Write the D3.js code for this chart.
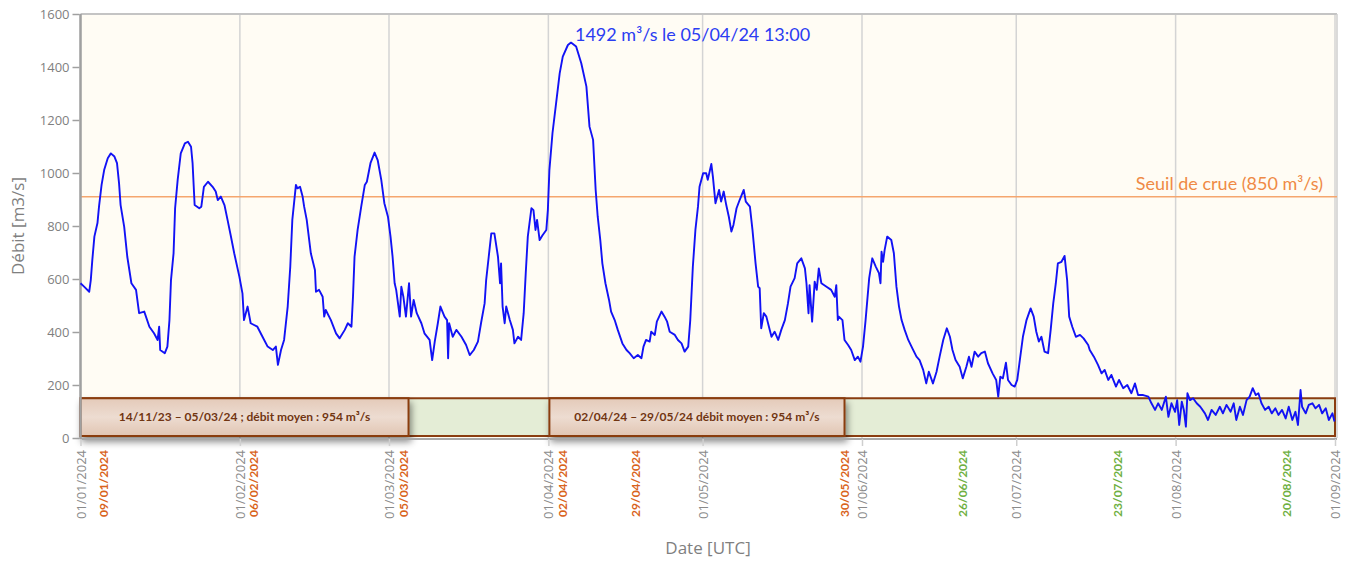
<!DOCTYPE html>
<html>
<head>
<meta charset="utf-8">
<script src="https://cdn.jsdelivr.net/npm/d3@7"></script>
<style>
  body { margin: 0; background: #fff; }
  text { font-family: 'Open Sans', sans-serif; }
</style>
</head>
<body>
<svg id="svg" width="1347" height="563"></svg>
<script>
const WIDTH = 1347
const HEIGHT = 563
const LEFT = 80.5
const RIGHT = 1335
const TOP = 14
const BOTTOM = 438

// jours depuis le 01/01/2024 (UTC) et debit en m3/s
const jours = [
  0, 0.7, 1.7, 2.0, 2.3, 2.7, 3.3, 3.6, 4.1, 4.6, 5.3, 5.9, 6.6, 7.1, 7.5, 7.8, 8.5, 9.1, 9.9, 10.8,
  11.4, 12.4, 13.4, 14.3, 15.0, 15.3, 15.5, 16.4, 16.9, 17.3, 17.6, 18.1, 18.4, 18.9, 19.5, 20.3, 20.9, 21.5, 21.8, 22.2,
  23.1, 23.5, 24.0, 24.8, 25.7, 26.3, 26.7, 27.3, 28.0, 28.6, 29.2, 29.9, 30.9, 31.5, 31.8, 32.5, 33.1, 34.4, 35.4, 36.4,
  37.4, 38.0, 38.4, 39.0, 39.6, 40.3, 40.8, 41.2, 41.9, 42.2, 42.7, 43.2, 43.5, 44.0, 44.8, 45.6, 45.8, 46.4, 47.1, 47.4,
  47.7, 48.7, 49.7, 50.4, 51.4, 52.0, 52.7, 53.0, 53.3, 53.9, 54.6, 55.3, 55.7, 56.4, 57.2, 57.8, 58.5, 59.1, 59.8, 60.3,
  60.7, 61.1, 61.4, 62.1, 62.4, 62.8, 63.3, 63.9, 64.3, 64.8, 65.4, 66.3, 66.9, 67.9, 68.4, 68.9, 69.5, 70.0, 70.8, 71.3,
  71.5, 71.7, 72.4, 73.1, 74.1, 75.0, 75.7, 76.5, 77.3, 77.9, 78.6, 78.9, 79.4, 79.9, 80.5, 81.2, 81.6, 81.8, 82.1, 82.5,
  82.8, 83.5, 84.1, 84.4, 85.1, 85.7, 86.2, 86.6, 87.0, 87.7, 88.1, 88.5, 88.8, 89.3, 89.9, 90.6, 90.9, 91.2, 91.8, 92.5,
  93.2, 93.8, 94.8, 95.4, 96.4, 97.4, 98.4, 99.0, 99.7, 100.2, 100.6, 101.1, 101.5, 102.1, 102.8, 103.2, 103.9, 104.5, 105.4, 106.2,
  106.8, 107.6, 108.4, 109.1, 109.5, 110.0, 110.7, 111.0, 111.7, 112.1, 113.0, 113.6, 114.1, 114.6, 115.6, 116.2, 116.9, 117.5, 118.2, 118.6,
  119.1, 119.6, 120.1, 120.4, 121.1, 121.7, 122.0, 122.7, 123.0, 123.5, 124.2, 124.6, 125.1, 125.6, 126.1, 126.6, 127.0, 127.6, 128.2, 129.0,
  129.4, 130.2, 130.7, 131.3, 131.8, 132.1, 132.4, 132.9, 133.4, 133.9, 134.4, 135.0, 135.7, 136.3, 137.0, 137.6, 138.1, 138.9, 139.4, 140.2,
  140.9, 141.2, 141.6, 141.8, 142.3, 142.8, 143.2, 143.6, 144.1, 145.1, 146.0, 146.7, 147.0, 147.3, 147.5, 148.2, 148.6, 149.3, 149.9, 150.6,
  151.2, 151.7, 152.2, 152.7, 153.4, 154.0, 154.7, 155.3, 155.6, 155.8, 156.1, 156.4, 156.9, 157.7, 158.2, 158.7, 159.2, 159.7, 160.3, 161.0,
  161.8, 162.6, 163.2, 163.9, 164.5, 165.0, 165.8, 166.5, 167.1, 167.8, 168.5, 169.1, 169.6, 170.2, 171.0, 171.6, 172.3, 172.8, 173.3, 173.9,
  174.6, 175.2, 175.9, 176.5, 177.4, 178.1, 178.5, 178.9, 179.4, 180.0, 180.4, 181.1, 181.7, 182.2, 182.7, 183.3, 184.0, 184.8, 185.4, 185.9,
  186.4, 186.9, 187.5, 188.2, 188.7, 189.2, 189.7, 190.1, 190.8, 191.4, 191.9, 192.3, 192.9, 193.6, 194.4, 195.1, 196.0, 196.3, 197.1, 197.9,
  198.6, 199.2, 199.9, 200.5, 201.4, 202.0, 202.8, 203.6, 204.4, 205.1, 205.7, 206.7, 207.7, 208.3, 209.0, 209.6, 210.3, 211.1, 211.6, 212.2,
  212.9, 213.3, 213.7, 214.2, 214.6, 215.0, 215.3, 215.8, 216.4, 217.1, 217.8, 218.7, 219.3, 220.0, 220.8, 221.6, 222.2, 222.9, 223.7, 224.3,
  224.8, 225.5, 226.1, 226.8, 227.4, 228.0, 228.6, 229.1, 229.7, 230.4, 231.1, 231.7, 232.4, 233.0, 233.7, 234.4, 235.0, 235.7, 236.3, 236.8,
  237.3, 237.6, 238.3, 238.9, 239.6, 240.2, 240.9, 241.5, 242.2, 242.8, 243.5, 243.9
]
const debits = [
  584, 571, 552, 596, 672, 760, 811, 873, 955, 1011, 1056, 1074, 1062, 1037, 961, 879, 797, 684, 584, 559,
  471, 477, 420, 395, 370, 420, 332, 320, 345, 445, 596, 697, 867, 974, 1074, 1112, 1118, 1099, 1037, 879,
  867, 873, 948, 967, 948, 930, 898, 911, 879, 823, 766, 697, 609, 546, 445, 496, 433, 420, 382, 345,
  332, 345, 276, 332, 370, 496, 646, 823, 955, 942, 948, 911, 873, 823, 697, 634, 552, 559, 533, 458,
  483, 445, 395, 376, 408, 433, 420, 533, 684, 785, 873, 955, 967, 1037, 1077, 1049, 974, 886, 835, 760,
  684, 584, 559, 458, 571, 533, 458, 584, 458, 521, 471, 433, 395, 370, 294, 364, 433, 496, 458, 445,
  301, 433, 382, 408, 382, 351, 313, 332, 364, 433, 508, 596, 684, 772, 772, 684, 584, 659, 496, 433,
  496, 445, 408, 357, 382, 370, 471, 622, 760, 867, 860, 785, 823, 747, 766, 785, 860, 1011, 1150, 1263,
  1376, 1439, 1483, 1492, 1477, 1414, 1326, 1175, 1125, 936, 835, 747, 659, 584, 521, 477, 445, 408, 357, 332,
  320, 301, 313, 301, 345, 370, 364, 401, 389, 439, 477, 458, 439, 401, 389, 370, 357, 326, 345, 445,
  646, 785, 873, 948, 999, 999, 974, 1034, 986, 886, 936, 892, 930, 879, 835, 779, 804, 867, 898, 936,
  892, 873, 785, 659, 571, 565, 414, 471, 458, 420, 382, 401, 370, 408, 445, 508, 571, 603, 659, 678,
  640, 584, 471, 577, 439, 590, 559, 640, 584, 571, 559, 533, 577, 445, 458, 445, 370, 351, 332, 294,
  307, 288, 345, 445, 603, 678, 646, 622, 584, 703, 665, 709, 760, 747, 697, 571, 496, 445, 408, 370,
  338, 307, 294, 257, 206, 250, 206, 250, 307, 370, 414, 382, 332, 294, 269, 225, 269, 307, 269, 326,
  307, 320, 326, 282, 244, 219, 156, 231, 225, 284, 219, 200, 194, 219, 294, 382, 445, 489, 458, 401,
  364, 382, 326, 320, 408, 508, 584, 659, 665, 687, 596, 458, 420, 382, 389, 376, 351, 332, 307, 276,
  244, 257, 219, 238, 194, 219, 188, 200, 169, 206, 162, 162, 156, 131, 106, 131, 106, 156, 80, 131,
  99, 143, 49, 137, 106, 43, 169, 143, 150, 131, 118, 93, 68, 106, 87, 118, 93, 125, 99, 131,
  68, 118, 87, 143, 156, 188, 162, 169, 131, 106, 118, 93, 112, 87, 106, 74, 118, 68, 99, 49,
  181, 118, 93, 125, 131, 112, 125, 93, 112, 68, 93, 62
]

const yTicks = [0, 200, 400, 600, 800, 1000, 1200, 1400, 1600]

// reperes de dates sous l'axe (position, en jours)
const reperes = ['09/01/2024', '06/02/2024', '05/03/2024', '02/04/2024', '29/04/2024', '30/05/2024', '26/06/2024', '23/07/2024', '20/08/2024']
const reperesJours = [4.5, 33.7, 62.8, 93.8, 108, 148.6, 171.6, 201.8, 234.6]
const reperesType = ['crue', 'crue', 'crue', 'crue', 'crue', 'crue', 'etiage', 'etiage', 'etiage']

// periodes de crue (encadres) et bande verte
const periodes = ['14/11/23 – 05/03/24 ; débit moyen : 954 m³/s', '02/04/24 – 29/05/24 débit moyen : 954 m³/s']
const periodesDebut = [0, 91.2]
const periodesFin = [63.8, 148.6]
const bandeMax = 150

const seuil = 910
const seuilLabel = 'Seuil de crue (850 m³/s)'
const picJour = 95.4
const picDebit = 1492
const picLabel = '1492 m³/s le 05/04/24 13:00'

const T0 = Date.UTC(2024, 0, 1)
const toDate = d => new Date(T0 + d * 864e5)

const x = d3.scaleUtc()
  .domain([new Date(T0), new Date(Date.UTC(2024, 8, 1))])
  .range([LEFT, RIGHT])
const y = d3.scaleLinear()
  .domain([0, 1600])
  .range([BOTTOM, TOP])

const couleurRepere = d3.scaleOrdinal()
  .domain(['crue', 'etiage'])
  .range(['#d9641c', '#6fb043'])

const SVG = d3.select('#svg')
const defs = SVG.append('defs')
const shadow = defs.append('filter').attr('id', 'ombre')
  .attr('x', '-5%').attr('y', '-30%').attr('width', '115%').attr('height', '200%')
shadow.append('feDropShadow')
  .attr('dx', 2).attr('dy', 5).attr('stdDeviation', 3.5)
  .attr('flood-color', '#000').attr('flood-opacity', 0.45)
const grad = defs.append('linearGradient').attr('id', 'boite')
  .attr('x1', 0).attr('y1', 0).attr('x2', 0).attr('y2', 1)
grad.append('stop').attr('offset', '0%').attr('stop-color', '#e4cab9')
grad.append('stop').attr('offset', '50%').attr('stop-color', '#eddcd1')
grad.append('stop').attr('offset', '100%').attr('stop-color', '#e1c5b2')

// fond
SVG.append('rect')
  .attr('x', LEFT).attr('y', TOP)
  .attr('width', RIGHT - LEFT + 2).attr('height', BOTTOM - TOP)
  .attr('fill', '#fffcf4')

const mois = d3.utcMonth.range(new Date(T0), new Date(Date.UTC(2024, 8, 2)))

// grille verticale
SVG.append('g')
  .selectAll('line')
  .data(mois)
  .enter()
  .append('line')
  .attr('x1', d => x(d)).attr('x2', d => x(d))
  .attr('y1', TOP).attr('y2', BOTTOM)
  .attr('stroke', '#d4d4d4')
  .attr('stroke-width', 1.5)

// cadre haut et droit
SVG.append('line')
  .attr('x1', LEFT).attr('x2', RIGHT + 2).attr('y1', TOP).attr('y2', TOP)
  .attr('stroke', '#c4c4c4').attr('stroke-width', 2)
SVG.append('line')
  .attr('x1', RIGHT + 2).attr('x2', RIGHT + 2).attr('y1', TOP).attr('y2', BOTTOM)
  .attr('stroke', '#cfcfcf').attr('stroke-width', 1.5)

// seuil de crue
SVG.append('line')
  .attr('x1', LEFT).attr('x2', RIGHT + 2)
  .attr('y1', y(seuil)).attr('y2', y(seuil))
  .attr('stroke', '#f5a66e').attr('stroke-width', 1.5)
SVG.append('text')
  .text(seuilLabel)
  .attr('x', RIGHT - 12)
  .attr('y', y(seuil) - 7)
  .attr('text-anchor', 'end')
  .style('font-family', 'Lato, sans-serif')
  .style('font-size', '18px')
  .attr('fill', '#ef8a45')

// bande verte
SVG.append('rect')
  .attr('x', x(toDate(0))).attr('y', y(bandeMax))
  .attr('width', x(toDate(244)) - x(toDate(0)))
  .attr('height', y(0) - y(bandeMax) - 2)
  .attr('fill', '#e4edd6')
  .attr('stroke', '#8a3d10')
  .attr('stroke-width', 2)

// encadres des periodes
const boites = SVG.append('g')
  .selectAll('g')
  .data(periodes)
  .enter()
  .append('g')
boites.append('rect')
  .attr('x', (d, i) => x(toDate(periodesDebut[i])))
  .attr('y', y(bandeMax))
  .attr('width', (d, i) => x(toDate(periodesFin[i])) - x(toDate(periodesDebut[i])))
  .attr('height', y(0) - y(bandeMax) - 2)
  .attr('fill', 'url(#boite)')
  .attr('stroke', '#8a3d10')
  .attr('stroke-width', 2)
  .attr('filter', 'url(#ombre)')

// axe gauche et bas
SVG.append('line')
  .attr('x1', LEFT).attr('x2', RIGHT + 2).attr('y1', BOTTOM + 1).attr('y2', BOTTOM + 1)
  .attr('stroke', '#a8a8a8').attr('stroke-width', 2)
SVG.append('line')
  .attr('x1', LEFT).attr('x2', LEFT).attr('y1', TOP).attr('y2', BOTTOM + 1)
  .attr('stroke', '#a0a0a0').attr('stroke-width', 2.5)

// courbe du debit
const serie = jours.map((j, i) => ({ date: toDate(j), v: debits[i] }))
const LINE = d3.line()
  .x(d => x(d.date))
  .y(d => y(d.v))
SVG.append('path')
  .datum(serie)
  .attr('d', LINE)
  .attr('fill', 'none')
  .attr('stroke', '#1212f5')
  .attr('stroke-width', 1.9)
  .attr('stroke-linejoin', 'round')

// textes des encadres
boites.append('text')
  .text(d => d)
  .attr('x', (d, i) => (x(toDate(periodesDebut[i])) + x(toDate(periodesFin[i]))) / 2)
  .attr('y', y(bandeMax / 2) + 3)
  .attr('text-anchor', 'middle')
  .style('font-family', 'Lato, sans-serif')
  .style('font-size', '12px')
  .style('font-weight', 'bold')
  .attr('fill', '#713512')

// annotation du pic
SVG.append('text')
  .text(picLabel)
  .attr('x', x(toDate(picJour)) + 4)
  .attr('y', y(picDebit) - 2)
  .style('font-family', 'Lato, sans-serif')
  .style('font-size', '18px')
  .attr('fill', '#2b3cf2')

// axe Y
const yAxis = SVG.append('g')
  .attr('transform', `translate(${LEFT - 1}, 0)`)
  .call(d3.axisLeft(y).tickValues(yTicks).tickSize(7).tickPadding(3).tickFormat(d3.format('d')))
yAxis.select('.domain').remove()
yAxis.selectAll('line').attr('stroke', '#a0a0a0').attr('stroke-width', 1.5)
yAxis.selectAll('text')
  .style('font-family', "'Open Sans', sans-serif")
  .style('font-size', '13px')
  .attr('fill', '#7f7f7f')

SVG.append('text')
  .text('Débit [m3/s]')
  .attr('transform', `translate(24, ${(TOP + BOTTOM) / 2}) rotate(-90)`)
  .attr('text-anchor', 'middle')
  .style('font-size', '17px')
  .attr('fill', '#7f7f7f')

// axe X
const xAxis = SVG.append('g')
  .attr('transform', `translate(0, ${BOTTOM + 1})`)
  .call(d3.axisBottom(x).tickValues(mois).tickSize(7).tickFormat(d3.utcFormat('%d/%m/%Y')))
xAxis.select('.domain').remove()
xAxis.selectAll('line').attr('stroke', '#cfcfcf').attr('stroke-width', 1.5)
xAxis.selectAll('text')
  .attr('transform', 'rotate(-90)')
  .attr('x', -11)
  .attr('y', 0)
  .attr('dy', '0.35em')
  .attr('text-anchor', 'end')
  .style('font-family', "'Open Sans', sans-serif")
  .style('font-size', '13px')
  .attr('fill', '#8a8a8a')

SVG.append('g')
  .selectAll('text')
  .data(reperes)
  .enter()
  .append('text')
  .text(d => d)
  .attr('transform', (d, i) => `translate(${x(toDate(reperesJours[i]))}, ${BOTTOM + 12}) rotate(-90)`)
  .attr('dy', '0.35em')
  .attr('text-anchor', 'end')
  .style('font-family', 'Lato, sans-serif')
  .style('font-size', '12px')
  .style('font-weight', 'bold')
  .attr('fill', (d, i) => couleurRepere(reperesType[i]))

SVG.append('text')
  .text('Date [UTC]')
  .attr('x', 708)
  .attr('y', 554)
  .attr('text-anchor', 'middle')
  .style('font-size', '17px')
  .attr('fill', '#7f7f7f')
</script>
</body>
</html>
